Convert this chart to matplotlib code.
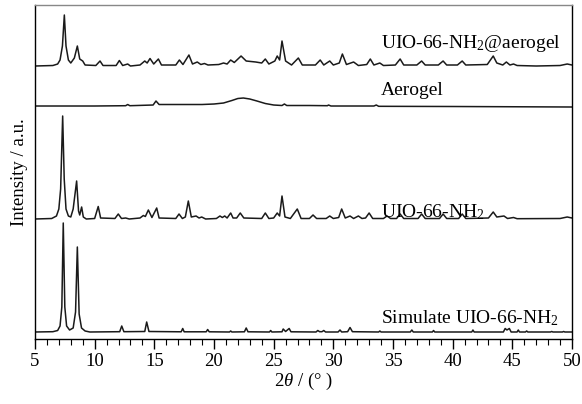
import numpy as np
import matplotlib
matplotlib.use("Agg")
import matplotlib.pyplot as plt
from matplotlib.ticker import MultipleLocator

plt.rcParams['font.family'] = ['Liberation Serif', 'DejaVu Serif']
plt.rcParams['mathtext.fontset'] = 'custom'
plt.rcParams['mathtext.rm'] = 'Liberation Serif'
plt.rcParams['mathtext.it'] = 'Liberation Serif:italic'

# peak profiles: 2theta and intensity above each baseline (a.u.)
composite_x = [5.0, 6.5, 6.9, 7.1, 7.3, 7.46, 7.6, 7.8, 8.0, 8.3, 8.55, 8.75, 9.0, 9.2, 10.1, 10.45, 10.7,
               11.8, 12.07, 12.35, 12.77, 13.0, 13.8, 14.2, 14.4, 14.64, 14.95, 15.34, 15.6, 16.8, 17.1,
               17.4, 17.9, 18.2, 18.6, 18.9, 19.2, 19.5, 20.4, 20.8, 21.1, 21.4, 21.7, 22.27, 22.7, 23.5,
               24.0, 24.3, 24.6, 25.1, 25.3, 25.5, 25.7, 26.0, 26.5, 27.07, 27.4, 28.5, 28.9, 29.2, 29.7,
               30.0, 30.5, 30.76, 31.1, 31.7, 32.1, 32.8, 33.1, 33.4, 33.9, 34.2, 35.2, 35.6, 35.9, 37.0,
               37.4, 37.7, 38.8, 39.2, 39.5, 40.4, 40.8, 41.1, 42.9, 43.4, 43.7, 44.2, 44.5, 44.8, 45.1,
               45.4, 47.0, 49.0, 49.6, 50.0]
composite_y = [0, 0.5, 2, 6, 20, 51, 20, 6, 3, 8, 20, 7, 5, 1, 0.5, 5, 0.5,
               0.5, 5.5, 0.5, 2, 0, 1, 5, 3, 7.5, 2, 7, 1, 1, 6,
               1.5, 11, 2, 4, 1.5, 2.5, 1, 1.5, 3, 2, 6, 3.5, 10, 5, 4,
               3, 7, 2, 5, 10, 6, 25, 5, 1, 8, 1, 1, 6, 1, 5,
               1, 3, 12, 1.5, 4, 0.5, 1.5, 7, 1, 3, 0.5, 1, 7, 1, 1,
               5, 1, 1, 5, 1, 1, 5, 1, 1.5, 10, 3, 1, 4, 1, 2,
               0.5, 0, 0.5, 2, 1]

aerogel_x = [5.0, 10.0, 12.6, 12.77, 12.95, 14.9, 15.14, 15.4, 17.0, 19.0, 20.0, 20.8, 21.5, 22.0, 22.46,
             23.0, 23.6, 24.3, 25.0, 25.7, 25.9, 26.1, 28.0, 29.5, 29.6, 29.8, 33.4, 33.6, 33.8, 40.0, 50.0]
aerogel_y = [0, 0, 0.3, 1.5, 0.3, 1, 5, 1.5, 1.5, 1.5, 2, 3, 5.5, 7.5, 8,
             7, 5, 2.5, 1, 0.5, 2, 0.5, 0.5, 0.3, 1, 0, 0, 1, -0.3, -0.5, -1]

uio_x = [5.0, 6.4, 6.8, 7.0, 7.15, 7.32, 7.45, 7.6, 7.8, 8.0, 8.2, 8.49, 8.65, 8.75, 8.91, 9.05, 9.3,
         10.0, 10.3, 10.5, 11.7, 11.98, 12.25, 12.6, 12.9, 13.8, 14.08, 14.25, 14.5, 14.8, 15.2, 15.4,
         16.8, 17.07, 17.35, 17.6, 17.85, 18.1, 18.5, 18.75, 18.97, 19.3, 20.2, 20.5, 20.7, 20.9, 21.1,
         21.4, 21.6, 21.9, 22.2, 22.5, 24.0, 24.3, 24.6, 25.0, 25.3, 25.5, 25.7, 25.95, 26.4, 26.98,
         27.3, 28.0, 28.3, 28.6, 29.4, 29.7, 30.0, 30.45, 30.7, 31.0, 31.4, 31.7, 32.1, 32.4, 32.7,
         33.0, 33.3, 34.2, 34.5, 34.8, 35.3, 35.6, 35.9, 37.1, 37.4, 37.7, 38.9, 39.2, 39.5, 40.5,
         40.8, 41.1, 43.0, 43.4, 43.7, 44.3, 44.6, 45.1, 45.4, 49.0, 49.6, 50.0]
uio_y = [0, 0.5, 3, 10, 30, 103, 40, 10, 3, 2, 10, 38, 8, 4, 12, 2, 0,
         0.5, 12.5, 1, 0.5, 5, 0.5, 1, 0, 1, 3.5, 2.5, 9, 1.5, 11, 1,
         0.5, 5, 0.5, 2, 18, 2, 3, 1, 2, 0, 0.5, 3, 1.5, 3, 1,
         6, 1, 1, 6, 1, 0.5, 6, 0.5, 1, 6, 3, 23, 2, 0.5, 10,
         0.5, 0.5, 4, 0.5, 0.5, 3, 0.5, 1.5, 10, 1, 3, 0.5, 3, 0.5, 1,
         6, 0.5, 0.5, 3, 0.5, 0.5, 5, 0.5, 0.5, 5, 0.5, 0.5, 5, 0.5, 0.5,
         5, 0.5, 1, 7, 2, 3, 0.5, 1.5, 0.3, 0.5, 2, 1]

sim_x = [5.0, 6.5, 6.9, 7.1, 7.25, 7.37, 7.5, 7.65, 7.9, 8.2, 8.4, 8.55, 8.7, 8.9, 9.2, 9.6,
         12.1, 12.27, 12.45, 14.2, 14.36, 14.55, 17.25, 17.38, 17.5, 19.35, 19.47, 19.6,
         21.3, 21.4, 21.5, 22.55, 22.7, 22.85, 24.65, 24.75, 24.85, 25.7, 25.8, 26.0, 26.3, 26.45,
         28.55, 28.7, 28.85, 29.05, 29.2, 29.35, 30.4, 30.56, 30.7, 31.2, 31.4, 31.6,
         33.8, 33.9, 34.0, 36.45, 36.58, 36.7, 38.3, 38.4, 38.5, 41.6, 41.7, 41.8,
         44.25, 44.4, 44.55, 44.75, 44.9, 45.4, 45.5, 45.6, 46.1, 46.2, 46.3,
         48.2, 48.3, 48.4, 49.2, 49.3, 49.4, 50.0]
sim_y = [0, 0.3, 1.5, 6, 25, 109, 25, 6, 2, 4, 20, 85, 18, 4, 1, 0,
         0.3, 6, 0.3, 0.5, 10, 0.5, 0.2, 3.5, 0.2, 0.2, 2.5, 0.2,
         0, 1, 0, 0.2, 4, 0.2, 0, 1.5, 0, 0.2, 3, 0.5, 3.5, 0.2,
         0, 1.5, 0.3, 0.3, 1.5, 0, 0, 2, 0, 0.3, 4.5, 0.3,
         0, 1, 0, 0, 2, 0, 0, 1.5, 0, 0, 2, 0,
         0, 3.5, 2, 3.5, 0, 0, 2, 0, 0, 1, 0,
         0, 0.5, 0, 0, 0.5, 0, 0]

# vertical offsets of each pattern
offsets = [273, 233, 120, 7]
labels = ['UIO-66-NH$_2$@aerogel', 'Aerogel', 'UIO-66-NH$_2$', 'Simulate UIO-66-NH$_2$']
label_y = [291, 244, 122, 16]

fig = plt.figure(figsize=(5.82, 4.04), dpi=100)
ax = fig.add_axes([0.0601, 0.1609, 0.9227, 0.8267])

series = [(composite_x, composite_y), (aerogel_x, aerogel_y), (uio_x, uio_y), (sim_x, sim_y)]
for (x, y), off in zip(series, offsets):
    ax.plot(x, np.array(y) + off, color='#1a1a1a', lw=1.1)

for lab, ly in zip(labels, label_y):
    ax.text(34.0, ly, lab, fontsize=14, ha='left', va='baseline')

ax.set_xlim(5, 50)
ax.set_ylim(0, 334)
ax.xaxis.set_major_locator(MultipleLocator(5))
ax.xaxis.set_minor_locator(MultipleLocator(1))
ax.set_yticks([])
ax.tick_params(axis='x', which='major', direction='out', length=7, width=1, labelsize=13.5, pad=3)
ax.tick_params(axis='x', which='minor', direction='out', length=4, width=0.8)
for s in ax.spines.values():
    s.set_linewidth(1)
ax.spines['top'].set_color('#888888')

ax.set_xlabel(r'2$\it{\theta}$ / (° )', fontsize=13.5, labelpad=1)
ax.set_ylabel('Intensity / a.u.', fontsize=13.5, labelpad=5)

plt.savefig('out.png', dpi=100)
plt.close()
